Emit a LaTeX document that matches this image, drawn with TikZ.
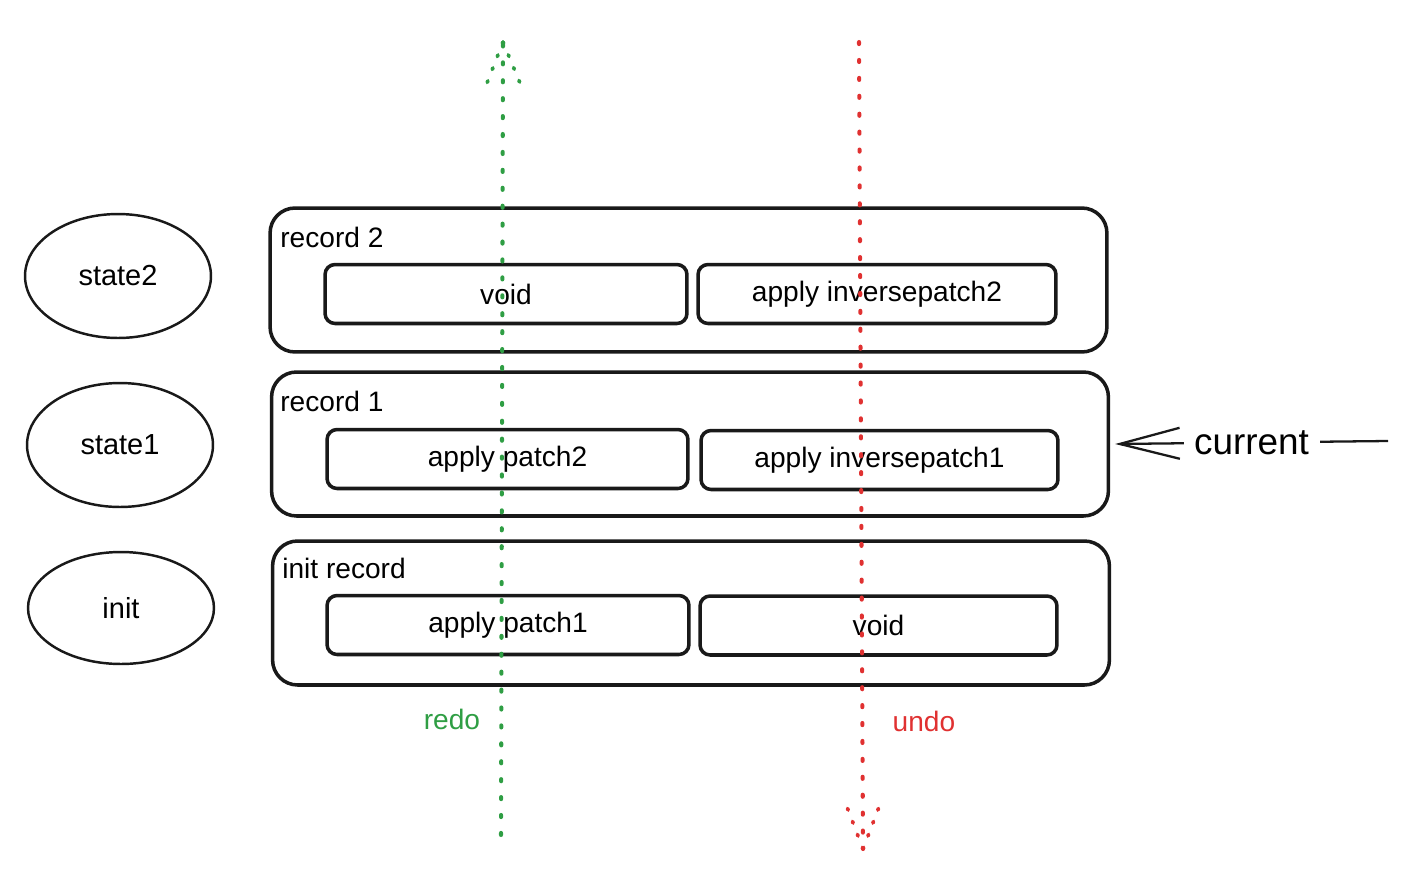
\documentclass[tikz,border=0pt]{standalone}
\usepackage{fontspec}
\setmainfont{Liberation Sans}
\usepackage{xcolor}
\usetikzlibrary{arrows.meta,positioning,shapes.geometric}
\definecolor{redogreen}{HTML}{2F9E44}
\definecolor{undored}{HTML}{E03131}
\tikzset{
  statenode/.style={ellipse, draw=black!90, line width=1.4pt, minimum width=3.72cm, minimum height=2.48cm, inner sep=0pt, font=\fontsize{16.5}{19}\selectfont},
  recbox/.style={draw=black!90, rounded corners=0.5cm, line width=2pt, minimum width=16.74cm, minimum height=2.88cm, inner sep=0pt},
  stepbox/.style={draw=black!90, rounded corners=0.2cm, line width=2pt, minimum height=1.18cm, inner sep=0pt, font=\fontsize{16}{19}\selectfont},
  reclabel/.style={anchor=west, inner sep=0pt, font=\fontsize{16}{19}\selectfont},
  redodots/.style={draw=redogreen, line width=2.3pt, line cap=round, dash pattern=on 1.2pt off 9pt},
  undodots/.style={draw=undored, line width=2.3pt, line cap=round, dash pattern=on 1.2pt off 9pt},
  tipdots/.style={line width=2.1pt, dash pattern=on 1pt off 6.9pt},
  curarrow/.style={-{Straight Barb[length=1.2cm,width=0.62cm]}, line width=1.3pt, draw=black!90}
}
\begin{document}
\begin{tikzpicture}[x=0.02cm, y=-0.02cm]
  \useasboundingbox (0,0) rectangle (1428,883);

  % states on the left
  \node[statenode] (st2) at (118,276) {state2};
  \node[statenode] (st1) at (120,445) {state1};
  \node[statenode, minimum height=2.24cm] (stinit) at (121,608) {init};

  % records
  \node[recbox] (rec2) at (688.5,280) {};
  \node[recbox] (rec1) at (690,444) {};
  \node[recbox] (recinit) at (691,613) {};
  \node[reclabel] at (280,237) {record 2};
  \node[reclabel] at (280,401) {record 1};
  \node[reclabel] at (282,568) {init record};

  \node[stepbox, minimum width=7.24cm] (r2a) at (506,294) {void};
  \node[stepbox, minimum width=7.16cm] (r2b) at (877,294) {apply inversepatch2};
  \node[stepbox, minimum width=7.22cm] (r1a) at (507.5,459) {apply patch2};
  \node[stepbox, minimum width=7.14cm] (r1b) at (879.5,460) {apply inversepatch1};
  \node[stepbox, minimum width=7.24cm] (r0a) at (508,625) {apply patch1};
  \node[stepbox, minimum width=7.14cm] (r0b) at (878.5,625.5) {void};

  % pointer to the current record
  \coordinate (curtail) at (1388,441);
  \draw[curarrow] (curtail) -- node[fill=white, inner xsep=6pt, font=\fontsize{21}{24}\selectfont] {current} ([xshift=0.1cm]rec1.east);

  % redo / undo directions
  \coordinate (redobot) at (501,835);
  \coordinate (redotop) at (503,42);
  \coordinate (undotop) at (859,42);
  \coordinate (undobot) at (863,849);
  \draw[redodots] (redobot) -- (redotop);
  \draw[redodots, tipdots] (redotop) -- ++(-16,41);
  \draw[redodots, tipdots] (redotop) -- ++(17,41);
  \draw[undodots] (undotop) -- (undobot);
  \draw[undodots, tipdots] (undobot) -- ++(-16,-42);
  \draw[undodots, tipdots] (undobot) -- ++(16,-42);
  \node[text=redogreen, font=\fontsize{16}{19}\selectfont] (redolbl) at (452,719) {redo};
  \node[text=undored, font=\fontsize{16}{19}\selectfont] (undolbl) at (924,721) {undo};
\end{tikzpicture}
\end{document}
